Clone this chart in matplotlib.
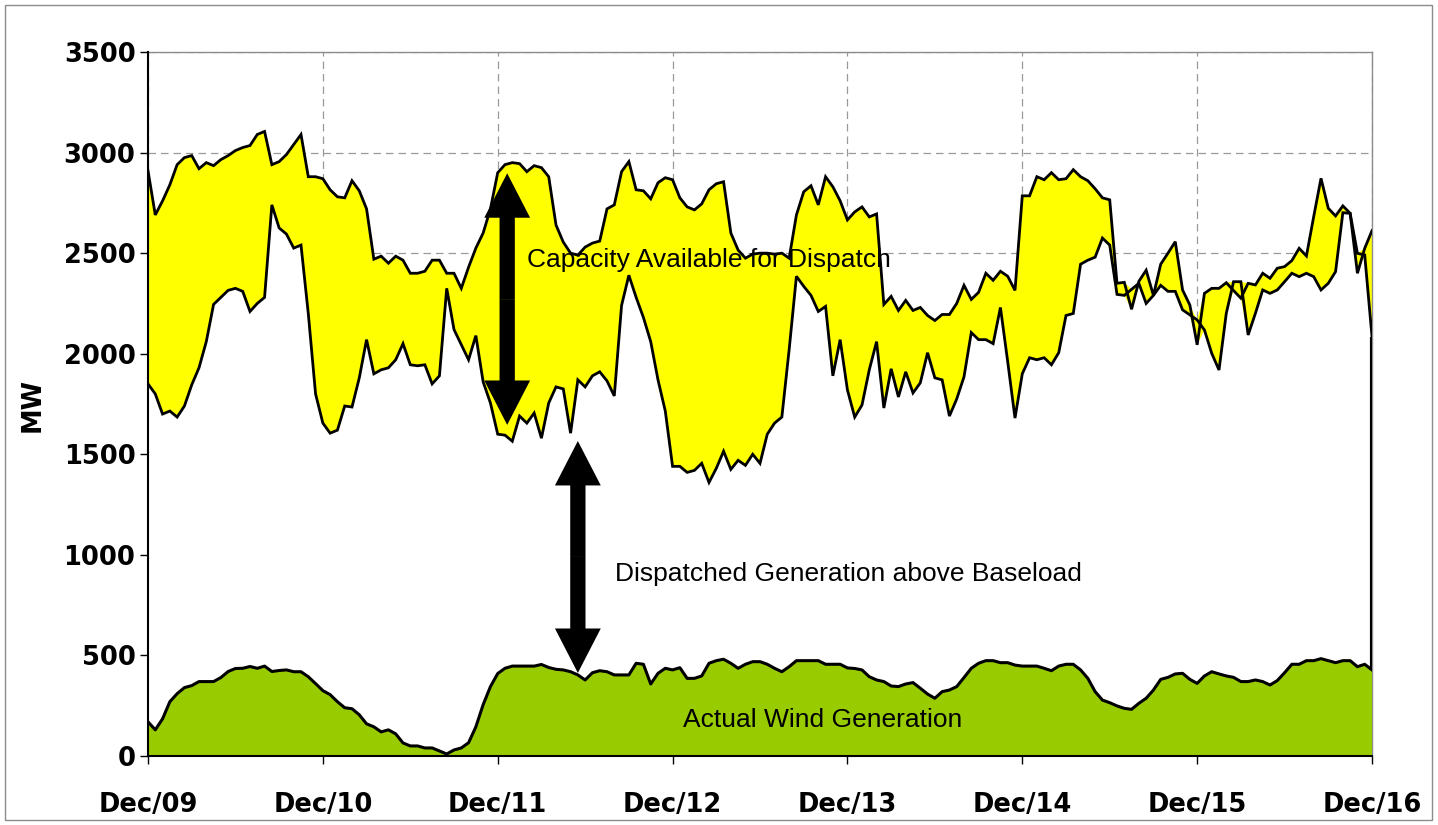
import matplotlib
matplotlib.use('Agg')
import matplotlib.pyplot as plt
import numpy as np
from matplotlib.patches import FancyArrowPatch, Rectangle
from matplotlib.patches import ArrowStyle

# ---------------- data (hourly, 7 days) ----------------
day_labels = ['Dec/09', 'Dec/10', 'Dec/11', 'Dec/12', 'Dec/13', 'Dec/14', 'Dec/15', 'Dec/16']
hours_per_day = 24
y_ticks = [0, 500, 1000, 1500, 2000, 2500, 3000, 3500]

capacity = [
    2910, 2690, 2760, 2840, 2940, 2975, 2985, 2920, 2950, 2935, 2965, 2985, 3010, 3025, 3035, 3090,
    3105, 2940, 2955, 2990, 3040, 3090, 2880, 2880, 2870, 2815, 2780, 2775, 2860, 2810, 2720, 2470,
    2485, 2450, 2485, 2465, 2400, 2400, 2410, 2465, 2465, 2400, 2400, 2325, 2430, 2525, 2600, 2720,
    2900, 2940, 2950, 2945, 2905, 2935, 2925, 2880, 2640, 2555, 2500, 2490, 2530, 2550, 2560, 2720,
    2740, 2905, 2955, 2815, 2810, 2770, 2850, 2875, 2865, 2775, 2730, 2715, 2745, 2815, 2845, 2855,
    2600, 2515, 2475, 2495, 2500, 2500, 2495, 2500, 2475, 2690, 2805, 2835, 2740, 2880, 2830, 2760,
    2665, 2705, 2730, 2680, 2695, 2245, 2285, 2215, 2265, 2215, 2230, 2190, 2165, 2195, 2195, 2250,
    2340, 2270, 2305, 2400, 2365, 2410, 2385, 2315, 2785, 2785, 2880, 2865, 2900, 2865, 2870, 2915,
    2880, 2860, 2820, 2775, 2765, 2350, 2355, 2221, 2360, 2415, 2290, 2445, 2500, 2557, 2317, 2242,
    2044, 2300, 2325, 2325, 2353, 2314, 2276, 2350, 2342, 2400, 2375, 2425, 2433, 2463, 2524, 2486,
    2682, 2872, 2723, 2685, 2735, 2698, 2400, 2524, 2612,
]

dispatched = [
    1850, 1800, 1700, 1715, 1685, 1740, 1845, 1930, 2060, 2245, 2280, 2315, 2325, 2310, 2210, 2250,
    2280, 2740, 2625, 2595, 2525, 2540, 2200, 1800, 1655, 1605, 1620, 1740, 1735, 1880, 2070, 1900,
    1920, 1930, 1970, 2050, 1945, 1940, 1945, 1850, 1890, 2325, 2120, 2045, 1970, 2090, 1860, 1755,
    1600, 1595, 1565, 1690, 1655, 1705, 1580, 1755, 1835, 1825, 1605, 1870, 1835, 1890, 1910, 1865,
    1790, 2240, 2390, 2280, 2180, 2060, 1870, 1715, 1440, 1440, 1410, 1420, 1455, 1360, 1430, 1515,
    1425, 1470, 1445, 1500, 1455, 1600, 1655, 1685, 2020, 2385, 2335, 2290, 2210, 2235, 1890, 2070,
    1820, 1685, 1745, 1920, 2060, 1730, 1925, 1785, 1910, 1805, 1855, 2005, 1880, 1870, 1690, 1775,
    1885, 2105, 2070, 2070, 2050, 2230, 1960, 1680, 1900, 1980, 1970, 1980, 1945, 2005, 2190, 2200,
    2445, 2465, 2480, 2575, 2540, 2295, 2290, 2320, 2350, 2250, 2290, 2340, 2310, 2310, 2218, 2193,
    2168, 2118, 2002, 1919, 2201, 2358, 2358, 2093, 2201, 2317, 2300, 2317, 2358, 2400, 2383, 2400,
    2383, 2317, 2350, 2408, 2701, 2698, 2499, 2491, 2085,
]

wind = [
    170, 130, 185, 270, 310, 340, 350, 370, 370, 370, 390, 420, 435, 436, 445, 436,
    447, 420, 425, 428, 419, 419, 394, 360, 325, 305, 270, 240, 235, 205, 160, 145,
    120, 130, 110, 65, 50, 50, 40, 40, 25, 10, 30, 40, 66, 145, 255, 345,
    410, 436, 447, 447, 447, 447, 455, 440, 431, 428, 419, 403, 378, 414, 424, 419,
    403, 403, 403, 461, 456, 358, 411, 436, 428, 439, 386, 386, 398, 461, 474, 481,
    461, 436, 456, 469, 469, 456, 436, 419, 444, 474, 474, 474, 474, 456, 456, 456,
    438, 435, 428, 394, 378, 370, 348, 345, 358, 365, 337, 308, 287, 320, 328, 345,
    390, 436, 461, 474, 474, 464, 464, 452, 447, 447, 447, 436, 424, 447, 456, 456,
    428, 386, 320, 278, 265, 249, 237, 232, 262, 287, 328, 381, 391, 408, 411, 381,
    361, 398, 419, 408, 398, 391, 370, 370, 378, 370, 353, 375, 414, 456, 456, 474,
    474, 484, 474, 464, 474, 474, 444, 456, 428,
]

label_capacity = 'Capacity Available for Dispatch'
label_dispatch = 'Dispatched Generation above Baseload'
label_wind = 'Actual Wind Generation'

# ---------------- styling ----------------
YELLOW = '#FFFF00'
GREEN = '#99CC00'
GRID = '#999999'
TICK_FAMILY = ['DejaVu Sans']
TICK_SIZE = 18.5
NOTE_FONT = dict(family=['Liberation Sans Narrow', 'Liberation Sans', 'DejaVu Sans'], fontsize=19)

W, H = 1438, 825
fig = plt.figure(figsize=(W / 100, H / 100), dpi=100)
fig.patch.set_facecolor('white')
fig.add_artist(Rectangle((5 / W, 5 / H), 1427 / W, 815 / H, transform=fig.transFigure,
                         fill=False, edgecolor='#8c8c8c', linewidth=1.0))

ax = fig.add_axes([148 / W, 1 - 756 / H, (1372 - 148) / W, (756 - 52) / H])

hours = np.arange(len(wind))
cap = np.array(capacity, dtype=float)
dis = np.array(dispatched, dtype=float)
wnd = np.array(wind, dtype=float)
lo = np.minimum(cap, dis)
hi = np.maximum(cap, dis)

ax.set_axisbelow(True)
ax.set_xlim(hours[0], hours[-1])
ax.set_ylim(y_ticks[0], y_ticks[-1])

# white area hides the grid below the lower curve
ax.fill_between(hours, 0, lo, facecolor='white', edgecolor='none', zorder=1)
ax.fill_between(hours, lo, hi, facecolor=YELLOW, edgecolor='none', zorder=1.5)
ax.plot(hours, cap, color='black', lw=2.0, zorder=3, solid_joinstyle='miter')
ax.plot(hours, dis, color='black', lw=2.0, zorder=3, solid_joinstyle='miter')
ax.fill_between(hours, 0, wnd, facecolor=GREEN, edgecolor='none', zorder=4)
ax.plot(hours, wnd, color='black', lw=2.2, zorder=5)
# right edge of the dispatched area outline
ax.vlines(hours[-1], wnd[-1], dis[-1], color='black', lw=3.0, zorder=5)

# grid
ax.set_yticks(y_ticks)
ax.set_xticks(np.arange(0, len(day_labels)) * hours_per_day)
ax.set_xticklabels(day_labels)
ax.grid(True, which='major', color=GRID, linestyle=(0, (6, 4)), linewidth=0.9)

for s in ['top', 'right']:
    ax.spines[s].set_color('#8c8c8c')
    ax.spines[s].set_linewidth(1.0)
for s in ['left', 'bottom']:
    ax.spines[s].set_color('black')
    ax.spines[s].set_linewidth(1.5)
    ax.spines[s].set_zorder(6)

ax.tick_params(axis='y', direction='out', length=6, width=1, pad=3)
ax.tick_params(axis='x', direction='out', length=6, width=1, pad=20)
for lab in ax.get_xticklabels() + ax.get_yticklabels():
    lab.set_fontfamily(TICK_FAMILY)
    lab.set_fontweight('bold')
    lab.set_fontsize(TICK_SIZE)

fig.text(33 / W, 1 - 405 / H, 'MW', rotation=90, ha='center', va='center',
         family=TICK_FAMILY, fontweight='bold', fontsize=TICK_SIZE)

# annotations
ax.text(52.0, 2466, label_capacity, ha='left', va='center', zorder=7, **NOTE_FONT)
ax.text(64.1, 905, label_dispatch, ha='left', va='center', zorder=7, **NOTE_FONT)
ax.text(73.4, 179, label_wind, ha='left', va='center', zorder=7, **NOTE_FONT)

style = ArrowStyle('simple', head_length=32, head_width=33, tail_width=11)


def double_arrow(x, y0, y1):
    mid = 0.5 * (y0 + y1)
    for tip in (y0, y1):
        a = FancyArrowPatch((x, mid), (x, tip), arrowstyle=style, mutation_scale=1,
                            shrinkA=0, shrinkB=0, color='black', lw=0, zorder=8)
        ax.add_patch(a)


double_arrow(49.3, 1646, 2897)
double_arrow(59.0, 413, 1566)

fig.savefig('out.png', dpi=100)
